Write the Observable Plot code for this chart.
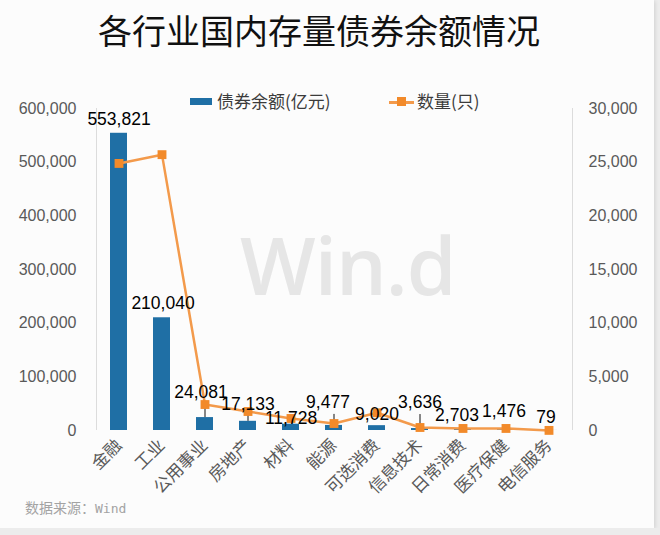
<!DOCTYPE html>
<html><head><meta charset="utf-8">
<script src="https://cdn.jsdelivr.net/npm/d3@7"></script>
<script src="https://cdn.jsdelivr.net/npm/@observablehq/plot@0.6"></script>
<style>
html,body{margin:0;padding:0;background:#ececec;}
#card{position:relative;width:654px;height:528px;background:#fcfcfc;overflow:hidden;box-shadow:1px 1px 4px rgba(0,0,0,0.12);}
#title{position:absolute;left:0;top:8px;width:638px;text-align:center;font:34px "Noto Sans CJK SC",sans-serif;color:#111;line-height:44px;}
#wm{position:absolute;left:240px;top:224px;font:600 80px "Open Sans",sans-serif;color:#e6e6e6;line-height:1;letter-spacing:-1px;}
#chart{position:absolute;left:0;top:0;width:660px;height:535px;}
#chart svg{max-width:none !important;}
.lg{position:absolute;font:17px "Noto Sans CJK SC",sans-serif;color:#3b3b3b;line-height:20px;}
#src{position:absolute;left:25px;top:497px;font:14px "Noto Sans CJK SC",sans-serif;color:#a3a3a3;line-height:20px;}
#src span{font-family:"DejaVu Sans Mono",monospace;font-size:13px;}
</style></head><body>
<div id="card">
  <div id="wm">Win.d</div>
  <div id="chart"></div>
  <div id="title">各行业国内存量债券余额情况</div>
  <div style="position:absolute;left:190px;top:98px;width:22px;height:7px;background:#1f6fa5"></div>
  <div class="lg" style="left:217px;top:91px;">债券余额(亿元)</div>
  <div style="position:absolute;left:389px;top:101px;width:25px;height:2.5px;background:#f39a4b"></div>
  <div style="position:absolute;left:397px;top:97px;width:9px;height:9px;background:#f28a2a"></div>
  <div class="lg" style="left:417px;top:91px;">数量(只)</div>
  <div id="src">数据来源：<span>Wind</span></div>
</div>
<script>
const categories = ["金融","工业","公用事业","房地产","材料","能源","可选消费","信息技术","日常消费","医疗保健","电信服务"];
const balance = [553821,210040,24081,17133,11728,9477,9020,3636,2703,1476,79];
const counts = [24880,25700,2420,1770,1120,650,1650,280,190,190,10];
const leftTicks = [0,100000,200000,300000,400000,500000,600000];
const rightTicks = [0,5000,10000,15000,20000,25000,30000];

// layout/style only (pixel offsets of the data labels and leader lines)
const labelDx = [0,1,-4,0,0,-6,0,0,-6,-2,-3];
const labelDy = [-14,-14,-25,-17,-6,-23,-11,-26,-14,-18,-13];
const leaderLen = [0,0,11,8,0,11,0,14,0,0,0];

const ratio = 600000/30000;
const fmt = d3.format(",");
const data = categories.map((c,i)=>({cat:c, bal:balance[i], cnt:counts[i]*ratio, label:fmt(balance[i])}));

function frameLines(index, scales, values, dimensions) {
  const {width, height, marginLeft, marginRight, marginTop, marginBottom} = dimensions;
  const g = d3.create("svg:g").attr("stroke", "#dcdcdc").attr("stroke-width", 1);
  for (const x of [marginLeft + 0.5, width - marginRight + 0.5]) {
    g.append("line").attr("x1", x).attr("x2", x).attr("y1", marginTop).attr("y2", height - marginBottom);
  }
  return g.node();
}

const leaders = data.map((d,i)=> leaderLen[i] ? Plot.ruleX([d], {x:"cat", y1:"bal", y2:"bal", insetTop:-leaderLen[i], stroke:"#111", strokeWidth:1}) : null).filter(Boolean);
const labels = data.map((d,i)=> Plot.text([d], {x:"cat", y:"bal", text:"label", dx:labelDx[i], dy:labelDy[i], fontSize:17.5, fill:"#000", fontFamily:"Liberation Sans, Arial, sans-serif"}));

const plot = Plot.plot({
  width: 660, height: 535,
  marginTop: 108, marginBottom: 105, marginLeft: 96, marginRight: 88,
  style: {background: "transparent", fontFamily: "Liberation Sans, Arial, sans-serif", overflow: "visible", maxWidth: "none"},
  x: {domain: categories, paddingInner: 0.6, paddingOuter: 0.3, label: null},
  y: {domain: [0, 600000], label: null},
  marks: [
    frameLines,
    Plot.axisY({anchor:"left", ticks:leftTicks, tickSize:0, tickPadding:20, tickFormat:fmt, fontSize:16, fill:"#595959", label:null}),
    Plot.axisY({anchor:"right", ticks:rightTicks.map(v=>v*ratio), tickSize:0, tickPadding:16, tickFormat:v=>fmt(v/ratio), fontSize:16, fill:"#595959", label:null}),
    Plot.axisX({tickRotate:-45, tickSize:0, tickPadding:12, fontSize:17, fill:"#595959", fontFamily:"Noto Sans CJK SC, sans-serif", label:null}),
    Plot.barY(data, {x:"cat", y:"bal", fill:"#1f6fa5"}),
    ...leaders,
    Plot.line(data, {x:"cat", y:"cnt", stroke:"#f39a4b", strokeWidth:2.5}),
    Plot.dot(data, {x:"cat", y:"cnt", symbol:"square", r:5, fill:"#f28a2a", stroke:"none"}),
    ...labels
  ]
});
document.getElementById("chart").appendChild(plot);
</script>
</body></html>
